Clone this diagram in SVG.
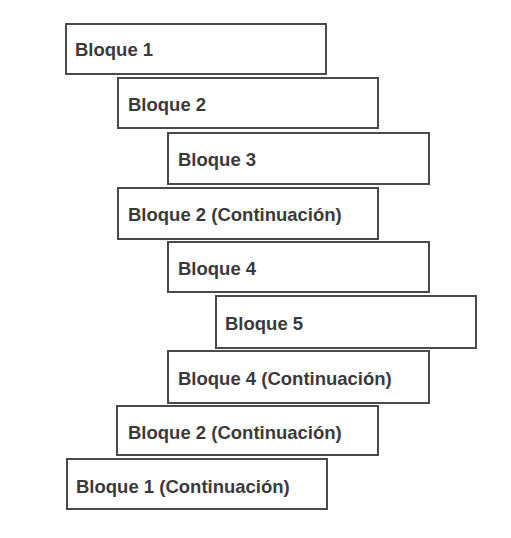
<svg xmlns="http://www.w3.org/2000/svg" width="511" height="538" viewBox="0 0 511 538">
<style>
.box{fill:#ffffff;stroke:#4a4a4a;stroke-width:2}
.lbl{font-family:"Liberation Sans",Arial,sans-serif;font-size:18.5px;font-weight:bold;fill:#3a3a3a}
</style>
<rect x="0" y="0" width="511" height="538" fill="#ffffff"/>
<g id="connectors"></g>
<g id="b1"><rect class="box" x="66" y="24" width="260" height="50"/><text class="lbl" x="75" y="56">Bloque 1</text></g>
<g id="b2"><rect class="box" x="118" y="78" width="260" height="50"/><text class="lbl" x="128" y="111">Bloque 2</text></g>
<g id="b3"><rect class="box" x="168" y="133" width="261" height="51"/><text class="lbl" x="178" y="166">Bloque 3</text></g>
<g id="b2c"><rect class="box" x="118" y="188" width="260" height="51"/><text class="lbl" x="128" y="221">Bloque 2 (Continuación)</text></g>
<g id="b4"><rect class="box" x="168" y="242" width="261" height="50"/><text class="lbl" x="178" y="275">Bloque 4</text></g>
<g id="b5"><rect class="box" x="216" y="296" width="260" height="52"/><text class="lbl" x="225" y="330">Bloque 5</text></g>
<g id="b4c"><rect class="box" x="168" y="351" width="261" height="52"/><text class="lbl" x="178" y="385">Bloque 4 (Continuación)</text></g>
<g id="b2c2"><rect class="box" x="117" y="406" width="261" height="49"/><text class="lbl" x="128" y="439">Bloque 2 (Continuación)</text></g>
<g id="b1c"><rect class="box" x="67" y="459" width="260" height="50"/><text class="lbl" x="76" y="493">Bloque 1 (Continuación)</text></g>
</svg>
